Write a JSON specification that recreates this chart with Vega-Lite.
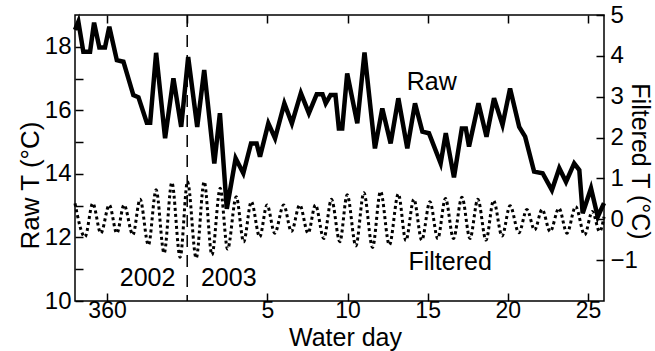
{
  "$schema": "https://vega.github.io/schema/vega-lite/v6.json",
  "width": 529,
  "height": 286,
  "autosize": {"type": "none"},
  "padding": {"left": 75, "top": 15, "right": 51, "bottom": 50},
  "background": "white",
  "config": {
    "font": "Liberation Sans",
    "view": {"stroke": "black", "strokeWidth": 1.5},
    "axis": {
      "domain": false,
      "grid": false,
      "tickColor": "black",
      "tickWidth": 1.5,
      "labelFont": "Liberation Sans",
      "labelFontSize": 24,
      "labelColor": "black",
      "titleFont": "Liberation Sans",
      "titleFontSize": 26,
      "titleFontWeight": "normal",
      "titleColor": "black"
    }
  },
  "datasets": {
    "raw": [
      {"t": -7.0, "v": 18.53}, {"t": -6.79, "v": 18.79}, {"t": -6.48, "v": 17.84}, {"t": -6.06, "v": 17.84},
      {"t": -5.81, "v": 18.76}, {"t": -5.48, "v": 17.98}, {"t": -5.13, "v": 17.98}, {"t": -4.86, "v": 18.63},
      {"t": -4.39, "v": 17.58}, {"t": -3.98, "v": 17.53}, {"t": -3.36, "v": 16.48}, {"t": -3.04, "v": 16.41},
      {"t": -2.52, "v": 15.61}, {"t": -2.31, "v": 15.61}, {"t": -1.94, "v": 17.81}, {"t": -1.38, "v": 15.12},
      {"t": -0.86, "v": 17.01}, {"t": -0.375, "v": 15.48}, {"t": 0.06, "v": 17.68}, {"t": 0.625, "v": 15.48},
      {"t": 1.06, "v": 17.27}, {"t": 1.69, "v": 14.33}, {"t": 2.04, "v": 15.91}, {"t": 2.47, "v": 12.9},
      {"t": 3.02, "v": 14.49}, {"t": 3.5, "v": 14.02}, {"t": 3.98, "v": 14.96}, {"t": 4.33, "v": 14.96},
      {"t": 4.54, "v": 14.54}, {"t": 5.06, "v": 15.59}, {"t": 5.48, "v": 15.12}, {"t": 6.06, "v": 16.22},
      {"t": 6.53, "v": 15.59}, {"t": 7.09, "v": 16.54}, {"t": 7.59, "v": 15.91}, {"t": 8.08, "v": 16.51},
      {"t": 8.44, "v": 16.51}, {"t": 8.64, "v": 16.22}, {"t": 8.94, "v": 16.48}, {"t": 9.25, "v": 16.48},
      {"t": 9.46, "v": 15.43}, {"t": 9.67, "v": 15.43}, {"t": 9.98, "v": 17.16}, {"t": 10.61, "v": 15.59},
      {"t": 11.06, "v": 17.82}, {"t": 11.71, "v": 14.8}, {"t": 12.17, "v": 16.06}, {"t": 12.69, "v": 14.96},
      {"t": 13.17, "v": 16.38}, {"t": 13.73, "v": 14.8}, {"t": 14.21, "v": 16.22}, {"t": 14.67, "v": 15.33},
      {"t": 15.08, "v": 15.28}, {"t": 15.81, "v": 14.33}, {"t": 16.13, "v": 15.28}, {"t": 16.64, "v": 13.89},
      {"t": 17.13, "v": 15.43}, {"t": 17.38, "v": 15.43}, {"t": 17.58, "v": 14.86}, {"t": 18.17, "v": 16.22},
      {"t": 18.67, "v": 15.17}, {"t": 19.14, "v": 16.38}, {"t": 19.67, "v": 15.54}, {"t": 20.14, "v": 16.69},
      {"t": 20.71, "v": 15.48}, {"t": 21.08, "v": 15.17}, {"t": 21.64, "v": 14.07}, {"t": 22.17, "v": 14.02},
      {"t": 22.75, "v": 13.49}, {"t": 23.21, "v": 14.18}, {"t": 23.63, "v": 13.75}, {"t": 24.14, "v": 14.33},
      {"t": 24.46, "v": 14.12}, {"t": 24.67, "v": 12.76}, {"t": 25.19, "v": 13.55}, {"t": 25.61, "v": 12.65},
      {"t": 26.0, "v": 13.08}
    ],
    "filtered": [
      {"t": -7.0, "f": 0.39}, {"t": -6.375, "f": -0.43}, {"t": -5.89, "f": 0.39}, {"t": -5.39, "f": -0.34},
      {"t": -4.86, "f": 0.35}, {"t": -4.39, "f": -0.34}, {"t": -3.94, "f": 0.35}, {"t": -3.39, "f": -0.38},
      {"t": -2.94, "f": 0.49}, {"t": -2.42, "f": -0.63}, {"t": -1.94, "f": 0.72}, {"t": -1.44, "f": -0.83},
      {"t": -0.96, "f": 0.9}, {"t": -0.44, "f": -0.93}, {"t": 0.02, "f": 0.92}, {"t": 0.56, "f": -0.95},
      {"t": 1.06, "f": 0.92}, {"t": 1.54, "f": -0.87}, {"t": 2.06, "f": 0.76}, {"t": 2.52, "f": -0.73},
      {"t": 3.06, "f": 0.55}, {"t": 3.52, "f": -0.55}, {"t": 4.0, "f": 0.43}, {"t": 4.52, "f": -0.43},
      {"t": 4.98, "f": 0.35}, {"t": 5.46, "f": -0.34}, {"t": 6.02, "f": 0.35}, {"t": 6.5, "f": -0.3},
      {"t": 7.02, "f": 0.35}, {"t": 7.54, "f": -0.34}, {"t": 8.0, "f": 0.35}, {"t": 8.52, "f": -0.47},
      {"t": 9.0, "f": 0.49}, {"t": 9.52, "f": -0.55}, {"t": 9.98, "f": 0.6}, {"t": 10.52, "f": -0.65},
      {"t": 11.02, "f": 0.65}, {"t": 11.56, "f": -0.69}, {"t": 12.06, "f": 0.68}, {"t": 12.61, "f": -0.63},
      {"t": 13.17, "f": 0.62}, {"t": 13.64, "f": -0.52}, {"t": 14.14, "f": 0.49}, {"t": 14.63, "f": -0.51},
      {"t": 15.14, "f": 0.43}, {"t": 15.63, "f": -0.47}, {"t": 16.11, "f": 0.51}, {"t": 16.61, "f": -0.47},
      {"t": 17.14, "f": 0.54}, {"t": 17.64, "f": -0.47}, {"t": 18.13, "f": 0.49}, {"t": 18.64, "f": -0.51},
      {"t": 19.11, "f": 0.46}, {"t": 19.64, "f": -0.41}, {"t": 20.14, "f": 0.33}, {"t": 20.69, "f": -0.33},
      {"t": 21.19, "f": 0.24}, {"t": 21.67, "f": -0.26}, {"t": 22.14, "f": 0.24}, {"t": 22.64, "f": -0.3},
      {"t": 23.19, "f": 0.27}, {"t": 23.69, "f": -0.34}, {"t": 24.23, "f": 0.31}, {"t": 24.79, "f": -0.38},
      {"t": 25.27, "f": 0.19}, {"t": 25.73, "f": -0.3}, {"t": 26.0, "f": 0.06}
    ],
    "labels": [
      {"t": -2.47, "v": 10.72, "label": "2002"},
      {"t": 2.59, "v": 10.72, "label": "2003"},
      {"t": 15.25, "v": 16.89, "label": "Raw"},
      {"t": 16.4, "v": 11.23, "label": "Filtered"}
    ],
    "boundary": [{"t": 0}]
  },
  "layer": [
    {
      "data": {"name": "boundary"},
      "mark": {"type": "rule", "color": "black", "strokeWidth": 1.5, "strokeDash": [12, 8]},
      "encoding": {
        "x": {"field": "t", "type": "quantitative", "scale": {"domain": [-7, 26], "nice": false, "zero": false}, "axis": null}
      }
    },
    {
      "data": {"name": "filtered"},
      "mark": {"type": "line", "color": "black", "strokeWidth": 3, "strokeDash": [3, 3], "interpolate": "monotone"},
      "encoding": {
        "x": {"field": "t", "type": "quantitative", "scale": {"domain": [-7, 26], "nice": false, "zero": false},
              "axis": {"orient": "top", "values": [-5, 0, 5, 10, 15, 20, 25], "labels": false, "title": null, "tickSize": -8}},
        "y": {"field": "f", "type": "quantitative", "scale": {"domain": [-2, 5], "nice": false, "zero": false},
              "axis": {"orient": "right", "values": [-1, 0, 1, 2, 3, 4, 5], "tickSize": -8, "labelPadding": 14,
                       "title": "Filtered T (°C)", "titleFontSize": 25, "titleAngle": 90, "titleX": 35, "titleY": 146, "titleAlign": "center", "titleBaseline": "middle"}}
      }
    },
    {
      "data": {"name": "raw"},
      "mark": {"type": "line", "color": "black", "strokeWidth": 4.5, "strokeJoin": "miter"},
      "encoding": {
        "x": {"field": "t", "type": "quantitative", "scale": {"domain": [-7, 26], "nice": false, "zero": false},
              "axis": {"orient": "bottom", "values": [-5, 5, 10, 15, 20, 25], "tickSize": -8, "labelPadding": 6, "labelFontSize": 23,
                       "labelExpr": "datum.value < 0 ? format(datum.value + 365, 'd') : datum.label",
                       "title": "Water day", "titleFontSize": 25, "titleX": 270, "titleY": 44, "titleBaseline": "alphabetic"}},
        "y": {"field": "v", "type": "quantitative", "scale": {"domain": [10, 19], "nice": false, "zero": false},
              "axis": {"orient": "left", "values": [10, 11, 12, 13, 14, 15, 16, 17, 18], "tickSize": -8, "labelPadding": 12,
                       "labelExpr": "datum.value % 2 === 0 ? datum.label : ''",
                       "title": "Raw T (°C)", "titleAngle": -90, "titleX": -45, "titleY": 170, "titleAlign": "center", "titleBaseline": "middle"}}
      }
    },
    {
      "data": {"name": "labels"},
      "mark": {"type": "text", "color": "black", "fontSize": 25, "align": "center", "baseline": "middle", "font": "Liberation Sans"},
      "encoding": {
        "x": {"field": "t", "type": "quantitative", "scale": {"domain": [-7, 26], "nice": false, "zero": false}, "axis": null},
        "y": {"field": "v", "type": "quantitative", "scale": {"domain": [10, 19], "nice": false, "zero": false}, "axis": null},
        "text": {"field": "label"}
      }
    }
  ],
  "resolve": {"scale": {"y": "independent"}, "axis": {"x": "independent", "y": "independent"}}
}
